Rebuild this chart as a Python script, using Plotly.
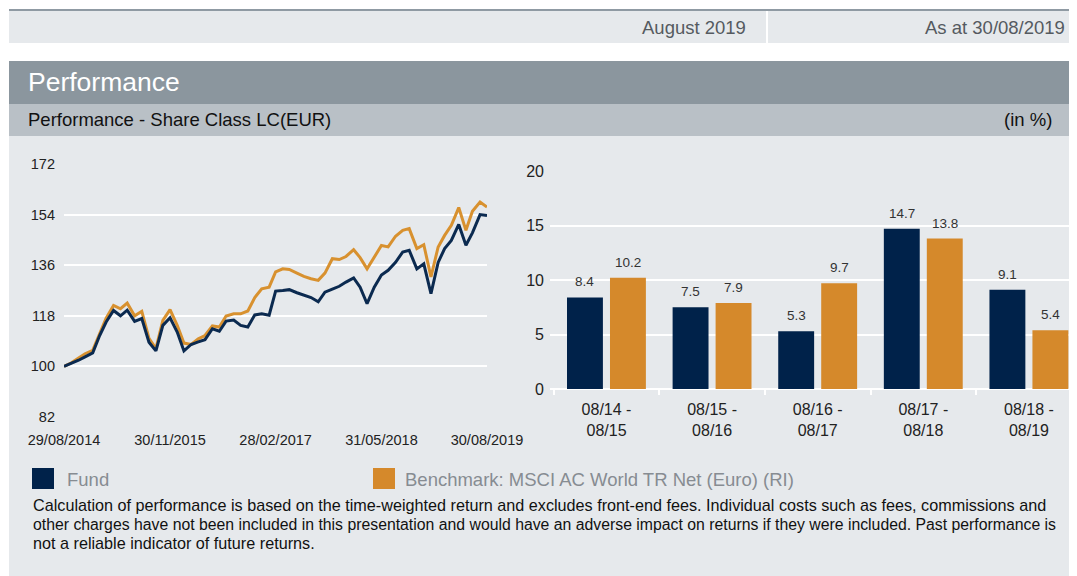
import pandas as pd
import plotly.graph_objects as go

# ---------------- data ----------------
dates = pd.date_range("2014-08-29", "2019-08-30", freq="BME")
fund_index = [100, 101.0, 102.2, 103.4, 104.8, 111.0, 115.8, 119.9, 118.0, 120.0, 116.0, 117.0,
              108.6, 105.5, 114.6, 117.3, 112.2, 105.5, 107.8, 108.7, 109.5, 113.4, 112.5, 116.1,
              116.5, 114.6, 114.0, 118.3, 118.7, 118.2, 126.8, 127.0, 127.3, 126.2, 125.5, 124.5,
              123.0, 126.4, 127.5, 128.5, 130.0, 131.5, 128.2, 122.3, 128.2, 132.5, 134.2, 137.0,
              140.7, 141.3, 134.7, 136.5, 125.9, 137.0, 141.9, 144.8, 150.5, 143.1, 147.5, 154.0,
              153.7]
bench_index = [100, 101.3, 103.0, 104.5, 105.7, 112.0, 117.2, 121.7, 120.5, 122.5, 118.0, 119.6,
               110.0, 106.3, 116.4, 120.2, 114.6, 108.3, 107.8, 109.8, 111.0, 114.4, 114.0, 117.9,
               118.7, 118.7, 119.7, 124.5, 127.6, 128.2, 133.6, 134.7, 134.5, 133.2, 132.0, 131.2,
               130.6, 133.2, 138.3, 138.0, 139.1, 141.5, 138.7, 134.7, 138.7, 143.0, 142.5, 146.3,
               148.4, 149.0, 141.9, 143.3, 131.8, 142.5, 146.6, 150.2, 156.5, 148.4, 155.2, 158.5,
               156.7]
line_tick_dates = ["2014-08-29", "2015-11-30", "2017-02-28", "2018-05-31", "2019-08-30"]
line_tick_text = ["29/08/2014", "30/11/2015", "28/02/2017", "31/05/2018", "30/08/2019"]
line_y_ticks = [82, 100, 118, 136, 154, 172]

periods = ["08/14 -<br>08/15", "08/15 -<br>08/16", "08/16 -<br>08/17", "08/17 -<br>08/18", "08/18 -<br>08/19"]
fund_returns = [8.4, 7.5, 5.3, 14.7, 9.1]
bench_returns = [10.2, 7.9, 9.7, 13.8, 5.4]
bar_y_ticks = [0, 5, 10, 15, 20]

# ---------------- styling ----------------
OFF = 8                      # page body margin in the browser
W, H = 1077 - OFF, 576 - OFF
NAVY = "#00224a"
NAVY_LINE = "#0b2a50"
ORANGE = "#d5892b"
ORANGE_LINE = "#d8912f"
BG = "#e6e9ec"
FONT = "Liberation Sans, Arial, sans-serif"
BAR_W = 0.34
FUND_OFF = -0.374
BENCH_OFF = 0.033


def px(x):
    return (x - OFF) / W


def py(y):
    return 1 - (y - OFF) / H


fig = go.Figure()

fig.add_trace(go.Scatter(x=dates, y=bench_index, mode="lines", name="Benchmark",
                         line=dict(color=ORANGE_LINE, width=3), xaxis="x", yaxis="y",
                         showlegend=False, hoverinfo="skip"))
fig.add_trace(go.Scatter(x=dates, y=fund_index, mode="lines", name="Fund",
                         line=dict(color=NAVY_LINE, width=3), xaxis="x", yaxis="y",
                         showlegend=False, hoverinfo="skip"))

fig.add_trace(go.Bar(x=periods, y=fund_returns, name="Fund", marker=dict(color=NAVY, line=dict(width=0)),
                     width=BAR_W, offset=FUND_OFF, xaxis="x2", yaxis="y2", showlegend=False))
fig.add_trace(go.Bar(x=periods, y=bench_returns, name="Benchmark", marker=dict(color=ORANGE, line=dict(width=0)),
                     width=BAR_W, offset=BENCH_OFF, xaxis="x2", yaxis="y2", showlegend=False))

shapes = [
    # top band
    dict(type="rect", x0=px(9), x1=1, y0=py(43), y1=py(10), fillcolor=BG, line=dict(width=0)),
    dict(type="line", x0=px(9), x1=1, y0=py(10), y1=py(10), line=dict(color="#8f9aa3", width=2)),
    dict(type="line", x0=px(767), x1=px(767), y0=py(43), y1=py(11), line=dict(color="white", width=2)),
    # title band
    dict(type="rect", x0=px(9), x1=1, y0=py(104), y1=py(61), fillcolor="#8b969e", line=dict(width=0)),
    # subheader band
    dict(type="rect", x0=px(9), x1=1, y0=py(136), y1=py(104), fillcolor="#b9c0c6", line=dict(width=0)),
    # body
    dict(type="rect", x0=px(9), x1=1, y0=0, y1=py(136), fillcolor=BG, line=dict(width=0)),
    # legend squares
    dict(type="rect", x0=px(32), x1=px(54), y0=py(489), y1=py(468), fillcolor=NAVY, line=dict(width=0)),
    dict(type="rect", x0=px(373), x1=px(395), y0=py(489), y1=py(468), fillcolor=ORANGE, line=dict(width=0)),
]
for s in shapes:
    s.update(xref="paper", yref="paper", layer="below")

annotations = [
    dict(text="August 2019", x=px(748), y=py(27), xanchor="right", font=dict(size=18.5, color="#555a60")),
    dict(text="As at 30/08/2019", x=px(1067), y=py(27), xanchor="right", font=dict(size=18.5, color="#555a60")),
    dict(text="Performance", x=px(26), y=py(82), xanchor="left", font=dict(size=26.5, color="white")),
    dict(text="Performance - Share Class LC(EUR)", x=px(26), y=py(119), xanchor="left",
         font=dict(size=18.5, color="#111111")),
    dict(text="(in %)", x=px(1054), y=py(119), xanchor="right", font=dict(size=18.5, color="#111111")),
    dict(text="Fund", x=px(65), y=py(479), xanchor="left", font=dict(size=18.5, color="#878c92")),
    dict(text="Benchmark: MSCI AC World TR Net (Euro) (RI)", x=px(403), y=py(479), xanchor="left",
         font=dict(size=18.5, color="#878c92")),
    dict(text="Calculation of performance is based on the time-weighted return and excludes front-end fees. "
              "Individual costs such as fees, commissions and",
         x=px(31), y=py(505), xanchor="left", font=dict(size=16.2, color="#111111")),
    dict(text="other charges have not been included in this presentation and would have an adverse impact on "
              "returns if they were included. Past performance is",
         x=px(31), y=py(524), xanchor="left", font=dict(size=15.8, color="#111111")),
    dict(text="not a reliable indicator of future returns.",
         x=px(31), y=py(543), xanchor="left", font=dict(size=16.2, color="#111111")),
]
for a in annotations:
    a.update(xref="paper", yref="paper", showarrow=False, yanchor="middle", align="left")

# value labels above the bars
for i, (f, b) in enumerate(zip(fund_returns, bench_returns)):
    for val, off in ((f, FUND_OFF), (b, BENCH_OFF)):
        annotations.append(dict(x=i + off + BAR_W / 2, y=val, xref="x2", yref="y2", text=f"{val:.1f}",
                                showarrow=False, yanchor="bottom", yshift=6,
                                font=dict(size=13.5, color="#333333", family=FONT)))

fig.update_layout(
    width=W, height=H,
    margin=dict(l=0, r=0, t=0, b=0, pad=0, autoexpand=False),
    paper_bgcolor="white",
    plot_bgcolor=BG,
    font=dict(family=FONT, color="#222222"),
    barmode="overlay",
    showlegend=False,
    shapes=shapes,
    annotations=annotations,
    xaxis=dict(domain=[px(64), px(487)], type="date", range=["2014-08-29", "2019-08-30"],
               tickvals=line_tick_dates, ticktext=line_tick_text, showgrid=False, zeroline=False,
               showline=False, ticks="", ticklabelstandoff=12, tickfont=dict(size=14.5, color="#222222"),
               automargin=False, fixedrange=True),
    yaxis=dict(domain=[py(417), py(164)], range=[82, 172], tickvals=line_y_ticks,
               gridcolor="white", gridwidth=2, zeroline=False, showline=False, ticks="",
               ticklabelstandoff=8, tickfont=dict(size=14.5, color="#222222"), anchor="x",
               automargin=False),
    xaxis2=dict(domain=[px(550), 1.0], type="category", range=[-0.535, 4.455], anchor="y2",
                showgrid=False, zeroline=False, showline=False, ticks="outside", tickson="boundaries",
                ticklen=5, tickcolor="white", tickwidth=2, ticklabelstandoff=9,
                tickfont=dict(size=16, color="#222222"), automargin=False),
    yaxis2=dict(domain=[py(389), py(171)], range=[0, 20], tickvals=bar_y_ticks, anchor="x2",
                gridcolor="white", gridwidth=2, zeroline=True, zerolinecolor="white", zerolinewidth=2,
                showline=False, ticks="", ticklabelstandoff=5, tickfont=dict(size=16, color="#222222"),
                automargin=False),
)

fig.write_html("out.html")
